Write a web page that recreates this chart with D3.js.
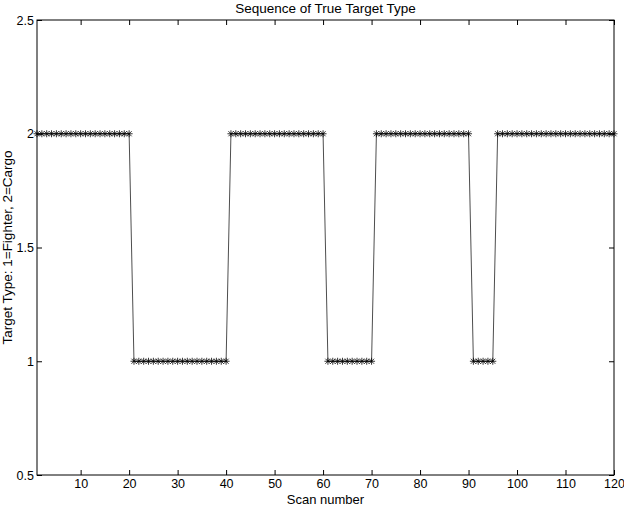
<!DOCTYPE html>
<html>
<head>
<meta charset="utf-8">
<script src="https://cdn.jsdelivr.net/npm/d3@7"></script>
<style>
  body { margin: 0; background: #fff; }
  svg text { font-family: "Liberation Sans", Arial, sans-serif; fill: #000; }
</style>
</head>
<body>
<div id="chart"></div>
<script>
// true target type per scan (1 = fighter, 2 = cargo), as runs of [firstScan, lastScan, type]
const runs = [
  [1, 20, 2],
  [21, 40, 1],
  [41, 60, 2],
  [61, 70, 1],
  [71, 90, 2],
  [91, 95, 1],
  [96, 120, 2]
];
const xTicks = [10, 20, 30, 40, 50, 60, 70, 80, 90, 100, 110, 120];
const yTicks = [0.5, 1, 1.5, 2, 2.5];
const yTickLabels = ['0.5', '1', '1.5', '2', '2.5'];

const scans = [];
runs.forEach(r => {
  for (let s = r[0]; s <= r[1]; s++) scans.push({scan: s, type: r[2]});
});

const width = 624;
const height = 506;
const margin = {top: 20, right: 10, bottom: 31, left: 37};

const svg = d3.select('#chart')
  .append('svg')
  .attr('width', width)
  .attr('height', height);

const x = d3.scaleLinear()
  .domain([1, 120])
  .range([margin.left, width - margin.right]);

const y = d3.scaleLinear()
  .domain([0.5, 2.5])
  .range([height - margin.bottom, margin.top]);

const tickLen = 5;

// ticks on bottom and top
svg.append('g')
  .attr('transform', `translate(0,${y(0.5)})`)
  .call(d3.axisBottom(x).tickValues(xTicks).tickSize(-tickLen).tickPadding(4).tickFormat(d3.format('d')));
svg.append('g')
  .attr('transform', `translate(0,${y(2.5)})`)
  .call(d3.axisTop(x).tickValues(xTicks).tickSize(-tickLen).tickFormat(''));

svg.append('g')
  .attr('transform', `translate(${x(1)},0)`)
  .call(d3.axisLeft(y).tickValues(yTicks).tickSize(-tickLen).tickPadding(3).tickFormat((d, i) => yTickLabels[i]));
svg.append('g')
  .attr('transform', `translate(${x(120)},0)`)
  .call(d3.axisRight(y).tickValues(yTicks).tickSize(-tickLen).tickFormat(''));

svg.selectAll('.domain').remove();
svg.selectAll('.tick line').attr('stroke', '#000').attr('stroke-width', 1);
svg.selectAll('.tick text').style('font-size', '12.5px');

// box
svg.append('rect')
  .attr('x', x(1))
  .attr('y', y(2.5))
  .attr('width', x(120) - x(1))
  .attr('height', y(0.5) - y(2.5))
  .attr('fill', 'none')
  .attr('stroke', '#000')
  .attr('stroke-width', 1);

const line = d3.line()
  .x(d => x(d.scan))
  .y(d => y(d.type));

svg.append('path')
  .datum(scans)
  .attr('d', line)
  .attr('fill', 'none')
  .attr('stroke', '#000')
  .attr('stroke-width', 0.7);

// asterisk markers
const r = 3.5;
const rd = r * 0.72;
const star = `M${-r},0L${r},0M0,${-r}L0,${r}M${-rd},${-rd}L${rd},${rd}M${-rd},${rd}L${rd},${-rd}`;
svg.append('g')
  .selectAll('path')
  .data(scans)
  .join('path')
  .attr('transform', d => `translate(${x(d.scan)},${y(d.type)})`)
  .attr('d', star)
  .attr('fill', 'none')
  .attr('stroke', '#000')
  .attr('stroke-width', 0.8);

svg.append('text')
  .attr('x', (x(1) + x(120)) / 2)
  .attr('y', 13)
  .attr('text-anchor', 'middle')
  .style('font-size', '13.5px')
  .text('Sequence of True Target Type');

svg.append('text')
  .attr('x', (x(1) + x(120)) / 2)
  .attr('y', 503.5)
  .attr('text-anchor', 'middle')
  .style('font-size', '13px')
  .text('Scan number');

svg.append('text')
  .attr('transform', `translate(12,${(y(0.5) + y(2.5)) / 2}) rotate(-90)`)
  .attr('text-anchor', 'middle')
  .style('font-size', '13.5px')
  .text('Target Type: 1=Fighter, 2=Cargo');
</script>
</body>
</html>
